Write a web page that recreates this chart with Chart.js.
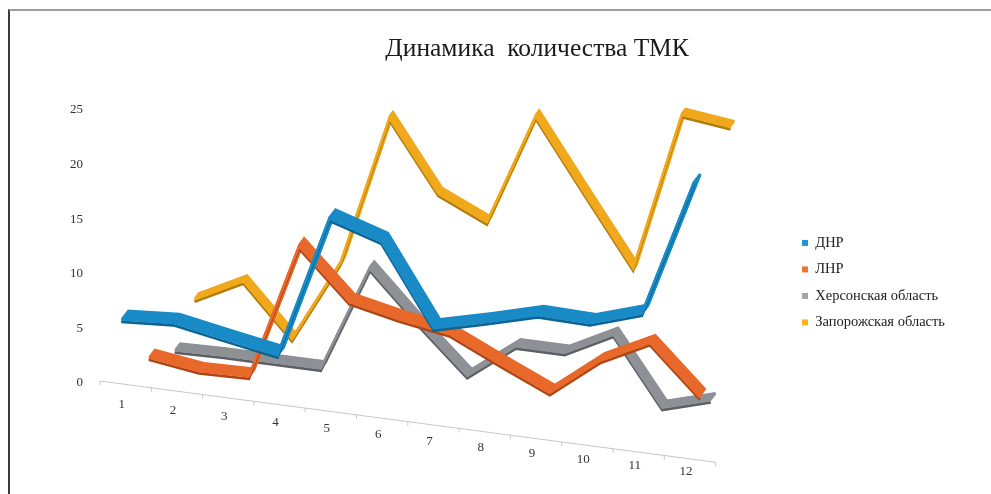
<!DOCTYPE html>
<html>
<head>
<meta charset="utf-8">
<script src="https://cdn.jsdelivr.net/npm/chart.js@4.4.0/dist/chart.umd.min.js"></script>
<style>
	html, body { margin: 0; padding: 0; background: #fff; }
	#wrap { position: relative; width: 991px; height: 494px; }
	#frame { position: absolute; left: 8px; top: 9px; right: 0; bottom: 0; border-left: 2px solid #3c3c3c; border-top: 2px solid #9d9d9d; pointer-events: none; }
</style>
</head>
<body>
<div id="wrap">
	<canvas id="mycanvas" width="991" height="494"></canvas>
	<div id="frame"></div>
</div>
<script>
var months = ['1','2','3','4','5','6','7','8','9','10','11','12'];
var dnr = [5.6, 5.9, 5.1, 4.3, 16.6, 15.2, 8.4, 9.5, 10.7, 10.6, 12.0, 23.8];
var lnr = [0.9, 0.3, 0.4, 12.1, 7.9, 7.0, 6.3, 4.3, 2.4, 5.7, 7.8, 3.7];
var kherson = [0.3, 0.4, 0.4, 0.4, 9.5, 5.3, 1.4, 4.5, 4.5, 6.6, 0.9, 2.1];
var zaporozhye = [3.6, 5.7, 1.3, 8.4, 21.3, 15.4, 13.5, 23.1, 17.1, 11.2, 24.9, 24.4];
var names = ['ДНР', 'ЛНР', 'Херсонская область', 'Запорожская область'];
var yMax = 25, yStep = 5;

var lineColors = ['#1a8bc6', '#e8692b', '#8e9196', '#f0a91d'];
var edgeColors = ['#0b6494', '#ad4514', '#5c5f64', '#b27a0b'];
var keyColors = ['#1f93d3', '#ef7433', '#a3a5a8', '#fbb41a'];

// fake 3d view: each series sits at its own depth behind the front axis
var depthShift = [-0.9, 27.6, 54.3, 74.1];
var depthLift = [-1, 19.7, 37.3, 52.2];
var depthShrink = [1.015, 0.977, 0.95, 0.95];
var ribbon = [[6.5, -8.5], [5.5, -7.5], [5, -6.5], [4, -5.5]];
var floorSlope = 0.132;
var heightScale = 1.07;

function project(chart, i, ox, oy) {
	var ctx = chart.ctx, a = chart.chartArea, yB = a.bottom;
	var sx = depthShrink[i], dx = depthShift[i];
	var base = yB - 2.5;
	ctx.translate(ox, oy);
	ctx.transform(sx, floorSlope * sx, 0, heightScale,
		a.left - a.left * sx + dx,
		base - depthLift[i] - heightScale * yB + floorSlope * (dx - a.left * sx));
}

var fake3d = {
	id: 'fake3d',
	beforeDatasetsDraw: function(chart) {
		var ctx = chart.ctx, a = chart.chartArea, xs = chart.scales.x;
		var w = (a.right - a.left) / months.length;
		var fy = function(x) { return a.bottom - 2.5 + floorSlope * (x - a.left); };
		ctx.save();
		ctx.strokeStyle = '#c6c6c6';
		ctx.lineWidth = 1;
		ctx.beginPath();
		ctx.moveTo(a.left + 4, fy(a.left + 4));
		ctx.lineTo(a.right + 4, fy(a.right + 4));
		for (var i = 0; i <= months.length; i++) {
			var tx = a.left + 4 + i * w;
			ctx.moveTo(tx, fy(tx));
			ctx.lineTo(tx, fy(tx) + 4);
		}
		ctx.stroke();
		ctx.fillStyle = '#333';
		ctx.font = '13px "Liberation Serif"';
		ctx.textAlign = 'center';
		ctx.textBaseline = 'middle';
		for (var j = 0; j < months.length; j++) {
			var x = xs.getPixelForValue(j);
			// labels come closer to the axis towards the right
			ctx.fillText(months[j], x, fy(x) + 21 - 8 * (x - a.left) / (a.right - a.left));
		}
		ctx.restore();
	},
	beforeDatasetDraw: function(chart, args) {
		var ctx = chart.ctx, i = args.index, v = ribbon[i], n = 12;
		// back part of the ribbon
		for (var k = n; k >= 1; k--) {
			ctx.save();
			project(chart, i, v[0] * k / n, v[1] * k / n);
			args.meta.controller.draw();
			ctx.restore();
		}
		// front edge, drawn by chart.js itself
		ctx.save();
		project(chart, i, 0, 0);
		ctx.shadowColor = edgeColors[i];
		ctx.shadowOffsetX = 0;
		ctx.shadowOffsetY = 2.5;
		ctx.shadowBlur = 0;
	},
	afterDatasetDraw: function(chart) {
		chart.ctx.restore();
	}
};

Chart.defaults.font.family = '"Liberation Serif", "Times New Roman", serif';

var series = [dnr, lnr, kherson, zaporozhye];
var datasets = [];
for (var s = 0; s < series.length; s++) {
	datasets.push({
		label: names[s],
		data: series[s],
		borderColor: lineColors[s],
		backgroundColor: keyColors[s],
		borderWidth: 2.6,
		borderJoinStyle: 'miter',
		pointRadius: 0,
		pointHoverRadius: 0,
		tension: 0,
		fill: false,
		clip: false
	});
}

var ctx = document.getElementById('mycanvas');
var chart = new Chart(ctx, {
	type: 'line',
	data: { labels: months, datasets: datasets },
	plugins: [fake3d],
	options: {
		responsive: false,
		animation: false,
		events: [],
		layout: { padding: { left: 83, right: 0, top: 20, bottom: 111 } },
		plugins: {
			title: {
				display: true,
				text: 'Динамика  количества ТМК',
				color: '#1a1a1a',
				font: { size: 25.5, weight: 'normal' },
				padding: { top: 14, bottom: 45.4 }
			},
			legend: {
				position: 'right',
				align: 'center',
				fullSize: false,
				title: { display: true, text: '', padding: 29, font: { size: 12 } },
				labels: {
					boxWidth: 6,
					boxHeight: 6,
					padding: 12,
					color: '#222',
					font: { size: 14.5 },
					generateLabels: function(chart) {
						return Chart.defaults.plugins.legend.labels.generateLabels(chart).map(function(l) {
							l.lineWidth = 0;
							return l;
						});
					}
				}
			},
			tooltip: { enabled: false }
		},
		scales: {
			x: { type: 'category', display: false, offset: true },
			y: {
				min: 0, max: yMax,
				ticks: { stepSize: yStep, mirror: true, crossAlign: 'far', padding: -26, color: '#333', font: { size: 13 } },
				grid: { display: false, drawTicks: false },
				border: { display: false },
				afterFit: function(s) { s.width = 13; }
			},
			yGap: {
				type: 'linear', position: 'right', weight: 0, display: false,
				afterFit: function(s) { s.width = 78.4; }
			},
			yEdge: {
				type: 'linear', position: 'right', weight: 2000, display: false,
				afterFit: function(s) { s.width = Math.max(0, 201 - s.chart.legend.width); }
			}
		}
	}
});
</script>
</body>
</html>
